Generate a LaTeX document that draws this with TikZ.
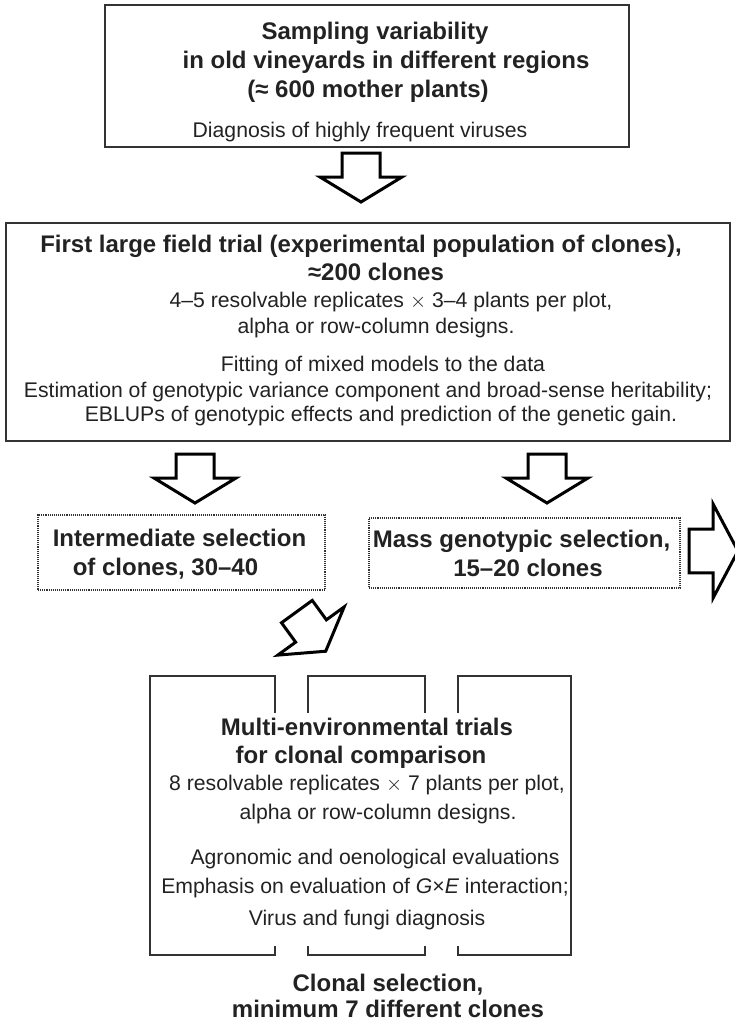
\documentclass[tikz,border=0pt]{standalone}
\usepackage{fontspec}
\setmainfont{Liberation Sans}
\usetikzlibrary{calc, positioning}

\definecolor{ink}{HTML}{222222}
\definecolor{rule}{HTML}{333333}

\tikzset{
  frame/.style={draw=rule, line width=1.4pt, inner sep=0pt},
  dotframe/.style={draw=rule, line width=1.1pt, densely dotted, inner sep=0pt},
  blockarrow/.style={draw=black, line width=3pt, fill=white, line join=miter},
  title/.style={font=\fontsize{24}{29}\selectfont\bfseries, text=ink, anchor=base, inner sep=0pt},
  note/.style={font=\fontsize{21.2}{26}\selectfont, text=ink, anchor=base, inner sep=0pt},
  downarrow/.pic={
    \draw[blockarrow] (-19,-24) -- (19,-24) -- (19,0) -- (41,0) -- (0,25)
      -- (-41,0) -- (-19,0) -- cycle;
  }
}

\begin{document}
\begin{tikzpicture}[x=1pt, y=-1pt]
  \useasboundingbox (0,0) rectangle (734,1020);

  % 1. Sampling box
  \node[frame, minimum width=524pt, minimum height=142pt] (sampling) at (367,76) {};
  \node[title] (samp1) at (375,39) {Sampling variability};
  \node[title] (samp2) at (386,68) {in old vineyards in different regions};
  \node[title] (samp3) at (368,97) {(≈ 600 mother plants)};
  \node[note]  (samp4) at (360,137) {Diagnosis of highly frequent viruses};

  \pic at (361,177) {downarrow};

  % 2. First field trial box
  \node[frame, minimum width=724pt, minimum height=218pt] (trial) at (368,332) {};
  \node[title] (trial1) at (361,252) {First large field trial (experimental population of clones),};
  \node[title] (trial2) at (376,280) {≈200 clones};
  \node[note]  (trial3) at (391,307) {4–5 resolvable replicates $\times$ 3–4 plants per plot,};
  \node[note]  (trial4) at (376,333) {alpha or row-column designs.};
  \node[note]  (trial5) at (383,371) {Fitting of mixed models to the data};
  \node[note]  (trial6) at (368,397) {Estimation of genotypic variance component and broad-sense heritability;};
  \node[note]  (trial7) at (381,421) {EBLUPs of genotypic effects and prediction of the genetic gain.};

  \foreach \ax in {195,547}
    \pic at (\ax,478) {downarrow};

  % 3. Selections
  \node[dotframe, minimum width=287pt, minimum height=75pt] (inter) at (181.5,552.5) {};
  \node[title] (inter1) at (179.5,546) {Intermediate selection};
  \node[title] (inter2) at (165.5,575) {of clones, 30–40};

  \node[dotframe, minimum width=311pt, minimum height=70pt] (mass) at (524.5,553) {};
  \node[title] (mass1) at (521.5,547) {Mass genotypic selection,};
  \node[title] (mass2) at (528,576) {15–20 clones};

  \pic[rotate=90, xscale=1.15] at (713,551) {downarrow};
  \pic[rotate=36] at (311,631) {downarrow};

  % 4. Multi-environmental trials (broken frame)
  \draw[frame] (275,713) -- (275,676) -- (150,676) -- (150,955) -- (275,955) -- (275,946);
  \draw[frame] (308,713) -- (308,676) -- (425,676) -- (425,713);
  \draw[frame] (308,946) -- (308,955) -- (425,955) -- (425,946);
  \draw[frame] (458,713) -- (458,676) -- (571,676) -- (571,955) -- (458,955) -- (458,946);

  \node[title] (met1) at (367,735) {Multi-environmental trials};
  \node[title] (met2) at (361,763) {for clonal comparison};
  \node[note]  (met3) at (367,790) {8 resolvable replicates $\times$ 7 plants per plot,};
  \node[note]  (met4) at (378,819) {alpha or row-column designs.};
  \node[note]  (met5) at (375,864) {Agronomic and oenological evaluations};
  \node[note]  (met6) at (365,893) {Emphasis on evaluation of \textit{G}×\textit{E} interaction;};
  \node[note]  (met7) at (367,925) {Virus and fungi diagnosis};

  % 5. Result
  \node[title] (final1) at (388,991) {Clonal selection,};
  \node[title] (final2) at (388,1017) {minimum 7 different clones};
\end{tikzpicture}
\end{document}
